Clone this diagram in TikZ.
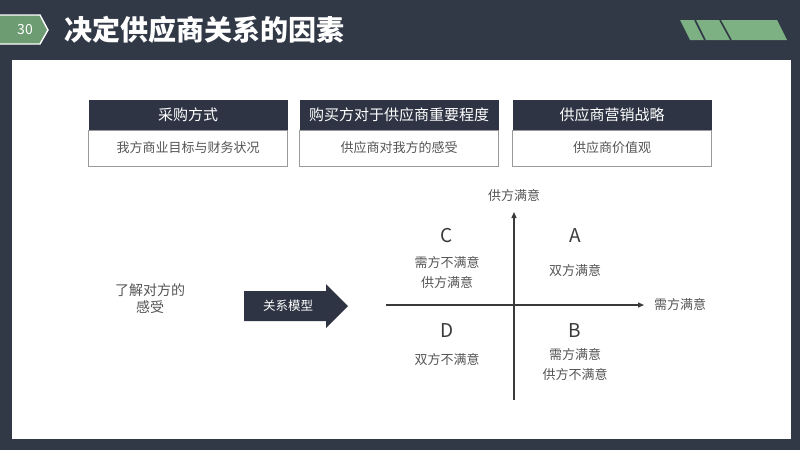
\documentclass[tikz,border=0pt]{standalone}
\usepackage{fontspec}
\setmainfont{Noto Sans CJK SC}
\usetikzlibrary{arrows.meta}
\definecolor{bg}{HTML}{313846}
\definecolor{hdr}{HTML}{2E3443}
\definecolor{tabgreen}{HTML}{6E9C72}
\definecolor{stripe}{HTML}{7DB083}
\definecolor{txt}{HTML}{555555}
\definecolor{axis}{HTML}{3A3A3A}
\tikzset{
  hdrbox/.style={fill=hdr, text=white, minimum width=199pt, minimum height=30pt, inner sep=0pt, font=\fontsize{15}{17}\selectfont},
  bodybox/.style={draw=gray!80, fill=white, line width=0.8pt, text=txt, minimum width=199pt, minimum height=36pt, inner sep=0pt, font=\fontsize{13}{15}\selectfont},
  qlabel/.style={text=txt, font=\fontsize{13}{20}\selectfont, align=center, inner sep=0pt},
  qletter/.style={text=axis, font=\fontsize{19}{21}\selectfont, inner sep=0pt},
  axisline/.style={draw=axis, line width=1.3pt, -{Triangle[length=6pt,width=5pt]}}
}
\begin{document}
\begin{tikzpicture}[x=1pt,y=-1pt]
\fill[bg] (0,0) rectangle (800,450);
\useasboundingbox (0,0) rectangle (800,450);
\fill[white] (12,60) rectangle (791,439);
% number tab
\draw[fill=tabgreen, draw=white, line width=1.4pt] (-2,15) -- (40,15) -- (48,30) -- (40,44) -- (-2,44) -- cycle;
\node[text=white, font=\fontsize{14}{16}\selectfont] (num) at (25,30) {30};
% title
\node[anchor=west, text=white, font=\fontsize{28}{30}\bfseries\selectfont, inner sep=0pt] (title) at (64,30) {决定供应商关系的因素};
% stripes
\fill[stripe] (680,20) -- (777,20) -- (787,40) -- (690,40) -- cycle;
\draw[bg, line width=1.6pt] (695,20) -- (705,40);
\draw[bg, line width=1.6pt] (720,20) -- (731,40);
% top boxes
\node[bodybox] (b1) at (188,148) {我方商业目标与财务状况};
\node[hdrbox] (h1) at (188,115) {采购方式};
\node[bodybox] (b2) at (399,148) {供应商对我方的感受};
\node[hdrbox] (h2) at (399,115) {购买方对于供应商重要程度};
\node[bodybox] (b3) at (612,148) {供应商价值观};
\node[hdrbox] (h3) at (612,115) {供应商营销战略};
% left text
\node[qlabel, font=\fontsize{14}{17}\selectfont] (know) at (150,299) {了解对方的\\感受};
% big arrow
\fill[hdr] (244,291) -- (326,291) -- (326,284) -- (348,306) -- (326,328) -- (326,321) -- (244,321) -- cycle;
\node[text=white, font=\fontsize{12.5}{14}\selectfont] (model) at (288,306) {关系模型};
% axes
\coordinate (vb) at (514,400);
\coordinate (vt) at (514,212);
\coordinate (hl) at (386,305);
\coordinate (hr) at (644,305);
\draw[axisline] (vb) -- (vt);
\draw[axisline] (hl) -- (hr);
\node[qlabel] (ylab) at (514,196) {供方满意};
\node[qlabel] (xlab) at (680,305) {需方满意};
% quadrants
\node[qletter] (C) at (447,236) {C};
\node[qletter] (A) at (575,236) {A};
\node[qletter] (D) at (447,331) {D};
\node[qletter] (B) at (575,331) {B};
\node[qlabel] (Ct) at (447,273) {需方不满意\\供方满意};
\node[qlabel] (At) at (575,271) {双方满意};
\node[qlabel] (Dt) at (447,360) {双方不满意};
\node[qlabel] (Bt) at (575,365) {需方满意\\供方不满意};
\end{tikzpicture}
\end{document}
